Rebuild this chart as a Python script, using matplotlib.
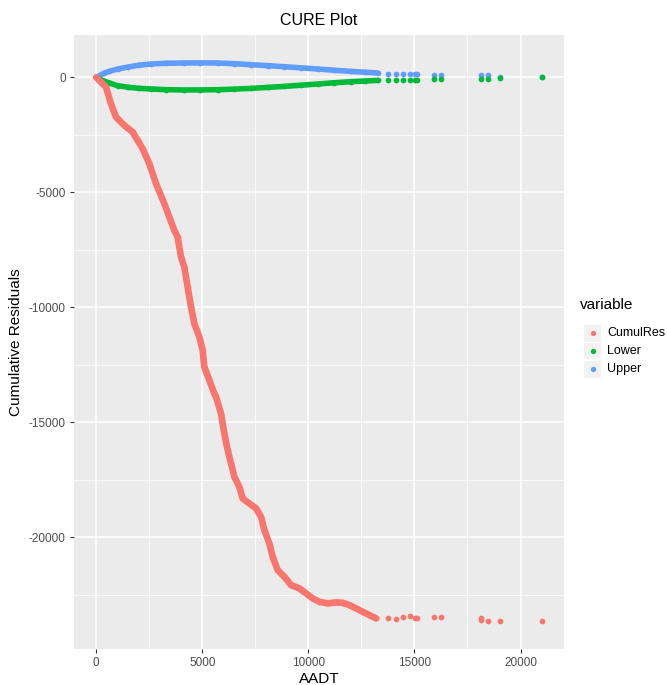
import matplotlib
matplotlib.use("Agg")
import matplotlib.pyplot as plt
from matplotlib.lines import Line2D
from matplotlib.patches import Rectangle
import numpy as np

plt.rcParams["font.family"] = ["Liberation Sans", "DejaVu Sans"]
plt.rcParams["axes.unicode_minus"] = False

# ---- data ----
aadt_res = [0, 458, 693, 929, 1321, 1712, 1948, 2184, 2500, 2816, 3208, 3443, 3679, 3835,
            3995, 4151, 4307, 4467, 4623, 4859, 5014, 5094, 5330, 5566, 5646, 5882, 6038,
            6193, 6354, 6509, 6745, 6901, 7217, 7533, 7769, 7925, 8160, 8316, 8552, 8868,
            9184, 9575, 9891, 10203, 10519, 10910, 11307, 11618, 11934, 12250, 12562,
            12878, 13194,
            13740, 14135, 14480, 14800, 15030, 15140, 15910, 16230, 18150, 18150, 18460,
            19010, 21000]
cumul_res = [0, -422, -1143, -1726, -2087, -2378, -2739, -3100, -3752, -4622, -5491, -6074,
             -6652, -6944, -7813, -8248, -9118, -9987, -10709, -11292, -11870, -12596,
             -13174, -13753, -13901, -14623, -15492, -16218, -16796, -17379, -17814,
             -18318, -18536, -18753, -19118, -19697, -20275, -20857, -21436, -21727,
             -22088, -22232, -22449, -22667, -22814, -22884, -22840, -22858, -22957,
             -23101, -23249, -23393, -23536,
             -23536, -23566, -23493, -23449, -23509, -23509, -23464, -23464, -23509,
             -23609, -23638, -23653, -23638]

aadt_bound = [0, 377, 613, 1005, 1500, 2000, 2580, 3300, 4151, 4900, 5722, 6500, 7297,
              8100, 8868, 9650, 10439, 11200, 12014, 12650, 13269,
              13740, 14135, 14480, 14800, 15030, 15140, 15910, 16230, 18150, 18460,
              19010, 21000]
upper = [0, 190, 261, 365, 450, 530, 583, 615, 626, 630, 626, 595, 552, 510, 465, 415,
         365, 312, 261, 225, 191,
         160, 150, 145, 140, 135, 130, 120, 115, 100, 90, 30, 0]
lower = [0, -170, -240, -361, -430, -475, -504, -535, -548, -545, -535, -510, -478, -435,
         -391, -340, -287, -235, -187, -160, -130,
         -113, -110, -108, -105, -103, -100, -90, -85, -70, -65, -30, 0]

series_names = ["CumulRes", "Lower", "Upper"]
colors = {"CumulRes": "#F8766D", "Lower": "#00BA38", "Upper": "#619CFF"}
dense_limit = 13300  # points below this AADT are densely packed

x_ticks = [0, 5000, 10000, 15000, 20000]
y_ticks = [-20000, -15000, -10000, -5000, 0]

# ---- figure ----
W, H = 667, 685
fig = plt.figure(figsize=(W / 100, H / 100), dpi=100)
fig.patch.set_facecolor("white")
L, R, T, B = 74, 564, 35, 649
ax = fig.add_axes([L / W, 1 - B / H, (R - L) / W, (B - T) / H])
ax.set_facecolor("#EBEBEB")
for s in ax.spines.values():
    s.set_visible(False)

def draw(x, y, col, z, lw):
    x = np.asarray(x); y = np.asarray(y)
    m = x < dense_limit
    ax.plot(x[m], y[m], color=col, lw=lw, solid_capstyle="round",
            solid_joinstyle="round", zorder=z)
    ax.scatter(x, y, s=17, color=col, linewidths=0, zorder=z)

draw(aadt_bound, upper, colors["Upper"], 3, 4.0)
draw(aadt_bound, lower, colors["Lower"], 4, 4.0)
draw(aadt_res, cumul_res, colors["CumulRes"], 5, 4.8)

ax.margins(x=0.05, y=0.05)
ax.set_xticks(x_ticks)
ax.set_yticks(y_ticks)
ax.set_xticks([2500, 7500, 12500, 17500], minor=True)
ax.set_yticks([-22500, -17500, -12500, -7500, -2500], minor=True)
ax.grid(which="major", color="white", lw=1.1, zorder=0)
ax.grid(which="minor", color="white", lw=0.55, zorder=0)
ax.set_axisbelow(True)
ax.tick_params(which="major", length=3, width=0.8, color="#333333",
               labelcolor="#4D4D4D", labelsize=8.5, pad=3)
ax.tick_params(which="minor", length=0)

ax.set_xlabel("AADT", fontsize=11, color="black", labelpad=2)
ax.set_ylabel("Cumulative Residuals", fontsize=11, color="black", labelpad=4)
ax.set_title("CURE Plot", fontsize=11.5, color="black", pad=7)

# ---- legend ----
fig.text(580 / W, 1 - 305 / H, "variable", fontsize=11, va="center", ha="left")
rows = [333, 351, 369]
for name, yy in zip(series_names, rows):
    fig.patches.append(Rectangle(((584) / W, 1 - (yy + 8.5) / H), 17 / W, 17 / H,
                                 transform=fig.transFigure, facecolor="#F2F2F2",
                                 edgecolor="none"))
    fig.add_artist(Line2D([592.5 / W], [1 - yy / H], marker="o", markersize=3.8,
                          color=colors[name], markeredgewidth=0, linestyle="none",
                          transform=fig.transFigure))
    fig.text(607 / W, 1 - yy / H, name, fontsize=9, va="center", ha="left",
             color="black")

fig.savefig("out.png", dpi=100)
